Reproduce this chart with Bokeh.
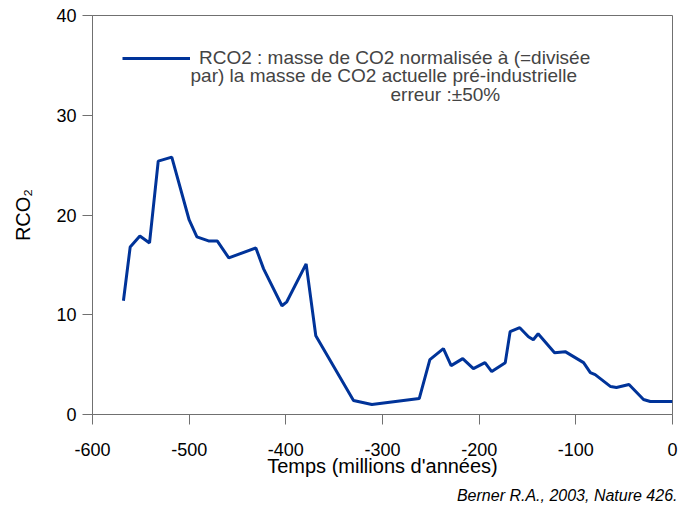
from bokeh.plotting import figure
from bokeh.models import (FixedTicker, Legend, LegendItem, Label, Range1d,
                          PrintfTickFormatter, Title)
from bokeh.embed import file_html
from bokeh.resources import INLINE

# Time (millions of years) and RCO2 values
time_my = [-568, -561, -551, -541, -532, -518, -500, -492, -480, -471, -459,
           -431, -423, -404, -399, -379, -369, -330, -311, -262, -251, -237,
           -229, -217, -206, -194, -187, -173, -168, -158, -149, -144, -139,
           -122, -111, -92, -85, -80, -64, -58, -45, -30, -23, 0]
rco2 = [11.4, 16.8, 17.9, 17.2, 25.4, 25.8, 19.5, 17.8, 17.4, 17.4, 15.7,
        16.7, 14.6, 10.9, 11.3, 15.1, 7.9, 1.4, 1.0, 1.6, 5.5, 6.6,
        4.9, 5.6, 4.6, 5.2, 4.3, 5.2, 8.3, 8.7, 7.8, 7.5, 8.1,
        6.2, 6.3, 5.2, 4.2, 4.0, 2.8, 2.7, 3.0, 1.5, 1.3, 1.3]

x_ticks = [-600, -500, -400, -300, -200, -100, 0]
y_ticks = [0, 10, 20, 30, 40]

legend_line1 = "RCO2 : masse de CO2 normalisée à (=divisée"
legend_line2 = "par)  la masse de CO2 actuelle pré-industrielle"
legend_line3 = "erreur :±50%"
x_title = "Temps (millions d'années)"
y_title = "RCO₂"
source_text = "Berner R.A., 2003, Nature 426."

FONT = "Liberation Sans"
GRAY = "#707070"
BLUE = "#003399"

p = figure(width=680, height=508, output_backend="svg", toolbar_location=None,
           x_range=Range1d(-600, 0), y_range=Range1d(0, 40),
           min_border_left=92, min_border_right=8, min_border_top=15,
           min_border_bottom=94)

line = p.line(time_my, rco2, line_color=BLUE, line_width=3)

p.xgrid.visible = False
p.ygrid.visible = False
p.outline_line_color = GRAY
p.outline_line_width = 1

for ax in (p.xaxis[0], p.yaxis[0]):
    ax.axis_line_color = GRAY
    ax.major_tick_line_color = GRAY
    ax.minor_tick_line_color = None
    ax.major_tick_out = 10
    ax.major_tick_in = 0
    ax.major_label_text_font = FONT
    ax.major_label_text_font_size = "18px"
    ax.major_label_text_color = "black"
    ax.axis_label_text_font = FONT
    ax.axis_label_text_font_size = "20px"
    ax.axis_label_text_font_style = "normal"
    ax.axis_label_text_color = "black"

p.xaxis.ticker = FixedTicker(ticks=x_ticks)
p.yaxis.ticker = FixedTicker(ticks=y_ticks)
p.xaxis.formatter = PrintfTickFormatter(format="%d")
p.yaxis.formatter = PrintfTickFormatter(format="%d")
p.xaxis.axis_label = x_title
p.yaxis.axis_label = y_title
p.xaxis.major_label_standoff = 18
p.xaxis.axis_label_standoff = -4
p.yaxis.major_label_standoff = 6
p.yaxis.axis_label_standoff = 19

legend = Legend(items=[LegendItem(label=legend_line1, renderers=[line])],
                location=(30, 345), padding=0, margin=0, border_line_alpha=0,
                background_fill_alpha=0, glyph_width=68, label_standoff=9,
                label_text_font=FONT, label_text_font_size="19px",
                label_height=20, glyph_height=20)
p.add_layout(legend)

p.add_layout(Label(x=98, y=339, x_units="screen", y_units="screen",
                   text=legend_line2, text_font=FONT, text_font_size="19px",
                   text_baseline="middle", text_align="left"))
p.add_layout(Label(x=298, y=320, x_units="screen", y_units="screen",
                   text=legend_line3, text_font=FONT, text_font_size="19px",
                   text_baseline="middle", text_align="left"))

p.add_layout(Title(text=source_text, align="right", offset=-5,
                   text_font=FONT, text_font_size="16px",
                   text_font_style="italic", text_color="black"), "below")

open("out.html", "w").write(file_html(p, INLINE))
